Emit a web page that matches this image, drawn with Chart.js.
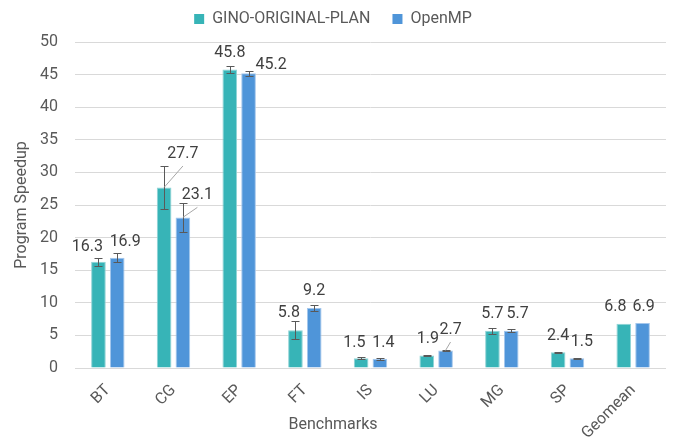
<!DOCTYPE html>
<html>
<head>
<meta charset="utf-8">
<script src="https://cdn.jsdelivr.net/npm/chart.js@4.4.1/dist/chart.umd.min.js"></script>
<style>
  html, body { margin: 0; padding: 0; background: #ffffff; }
  #wrap { width: 673px; height: 441px; }
</style>
</head>
<body>
<div id="wrap"><canvas id="c" width="673" height="441"></canvas></div>
<script>
// ---- data ----
const categories = ["BT", "CG", "EP", "FT", "IS", "LU", "MG", "SP", "Geomean"];
const seriesNames = ["GINO-ORIGINAL-PLAN", "OpenMP"];
const ginoValues = [16.3, 27.7, 45.8, 5.8, 1.5, 1.9, 5.7, 2.4, 6.8];
const openmpValues = [16.9, 23.1, 45.2, 9.2, 1.4, 2.7, 5.7, 1.5, 6.9];
const ginoErrors = [0.6, 3.3, 0.5, 1.4, 0.15, 0.05, 0.45, 0.05, 0];
const openmpErrors = [0.7, 2.2, 0.35, 0.45, 0.1, 0.1, 0.25, 0.05, 0];
const yTicks = [0, 5, 10, 15, 20, 25, 30, 35, 40, 45, 50];

// ---- style (label placement relative to bar top, in px) ----
const labelStyle = [
  [[-11,-10.7,0],[18.8,-29.4,1],[0,-12,0],[-6.5,-13,0],[-6.7,-11,0],[1,-12.6,0],[0,-13,0],[0,-12.4,0],[-8.5,-13,0]],
  [[8,-12,0],[14.5,-18,1],[22.5,-4,0],[0,-13,0],[3.5,-11.6,0],[5,-16.4,1],[6.5,-13,0],[5,-12.5,0],[1,-12.3,0]]
];
const FONT = "Roboto, 'Liberation Sans', Arial, sans-serif";
const TEXT = "#595959";

const errorBars = {
  id: 'errorBars',
  afterDatasetsDraw(chart) {
    const ctx = chart.ctx, ys = chart.scales.y;
    const errs = [ginoErrors, openmpErrors];
    chart.data.datasets.forEach((ds, i) => {
      const meta = chart.getDatasetMeta(i);
      meta.data.forEach((bar, j) => {
        const e = errs[i][j];
        if (!e) return;
        const v = ds.data[j];
        const yt = Math.round(ys.getPixelForValue(v + e)) + 0.5;
        const yb = Math.round(ys.getPixelForValue(v - e)) + 0.5;
        const x = Math.round(bar.x) + 0.5;
        ctx.save();
        ctx.strokeStyle = '#595959';
        ctx.lineWidth = 1;
        ctx.beginPath();
        ctx.moveTo(x, yt); ctx.lineTo(x, yb);
        ctx.moveTo(x - 4, yt); ctx.lineTo(x + 4, yt);
        ctx.moveTo(x - 4, yb); ctx.lineTo(x + 4, yb);
        ctx.stroke();
        ctx.restore();
      });
    });
  }
};

const dataLabels = {
  id: 'dataLabels',
  afterDatasetsDraw(chart) {
    const ctx = chart.ctx;
    chart.data.datasets.forEach((ds, i) => {
      const meta = chart.getDatasetMeta(i);
      meta.data.forEach((bar, j) => {
        const [dx, dy, leader] = labelStyle[i][j];
        const lx = bar.x + dx, ly = bar.y + dy;
        ctx.save();
        if (leader) {
          ctx.strokeStyle = '#a6a6a6';
          ctx.lineWidth = 1;
          ctx.beginPath();
          ctx.moveTo(bar.x, bar.y);
          ctx.lineTo(lx, ly + 8);
          ctx.stroke();
        }
        ctx.fillStyle = '#404040';
        ctx.font = "16px " + FONT;
        ctx.textAlign = 'center';
        ctx.textBaseline = 'alphabetic';
        ctx.fillText(ds.data[j].toFixed(1), lx, ly);
        ctx.restore();
      });
    });
  }
};

const fixBoxes = {
  id: 'fixBoxes',
  beforeLayout(chart) {
    const lg = chart.legend;
    if (lg && !lg.__patched) {
      const f = lg.fit;
      lg.fit = function () { f.apply(this, arguments); this.height = 53; };
      lg.__patched = true;
    }
    const tb = chart.titleBlock;
    if (tb && !tb.__patched) {
      const g = tb.fit;
      tb.fit = function () { g.apply(this, arguments); this.height = 0; };
      tb.__patched = true;
    }
  }
};

new Chart(document.getElementById('c'), {
  type: 'bar',
  data: {
    labels: categories,
    datasets: [
      { label: seriesNames[0], data: ginoValues, backgroundColor: '#37b4b7', borderColor: '#8fd3d5', borderWidth: 1,
        categoryPercentage: 0.572, barPercentage: 0.78 },
      { label: seriesNames[1], data: openmpValues, backgroundColor: '#4f95d9', borderColor: '#a3c6ec', borderWidth: 1,
        categoryPercentage: 0.572, barPercentage: 0.78 }
    ]
  },
  options: {
    responsive: false,
    animation: false,
    devicePixelRatio: 1,
    layout: { padding: { left: 0, right: 7, top: -11, bottom: 0 } },
    plugins: {
      legend: {
        position: 'top',
        labels: {
          font: { family: FONT, size: 16 },
          color: TEXT,
          boxWidth: 10, boxHeight: 10,
          padding: 22,
          generateLabels(chart) {
            const items = Chart.defaults.plugins.legend.labels.generateLabels(chart);
            items.forEach(it => { it.strokeStyle = it.fillStyle; it.lineWidth = 0; });
            return items;
          }
        }
      },
      title: {
        display: true,
        position: 'bottom',
        text: 'Benchmarks',
        color: TEXT,
        font: { family: FONT, size: 16, weight: 'normal' },
        padding: { top: -25.6, bottom: 0 }
      },
      tooltip: { enabled: false }
    },
    scales: {
      x: {
        grid: { display: false, drawTicks: false },
        border: { display: false },
        ticks: {
          color: TEXT, font: { family: FONT, size: 16 },
          maxRotation: 45, minRotation: 45, autoSkip: false, padding: 13
        },
        afterFit(s) { s.height = 73; }
      },
      y: {
        min: 0, max: 50,
        afterBuildTicks(s) { s.ticks = yTicks.map(v => ({ value: v })); },
        grid: { color: '#d9d9d9', drawTicks: false, lineWidth: 1 },
        border: { display: false },
        ticks: { color: TEXT, font: { family: FONT, size: 16 }, padding: 17 },
        title: {
          display: true, text: 'Program Speedup', color: TEXT,
          font: { family: FONT, size: 16 }, padding: { top: 12, bottom: 0 }
        },
        afterFit(s) { s.width = 75; }
      }
    }
  },
  plugins: [fixBoxes, errorBars, dataLabels]
});
</script>
</body>
</html>
